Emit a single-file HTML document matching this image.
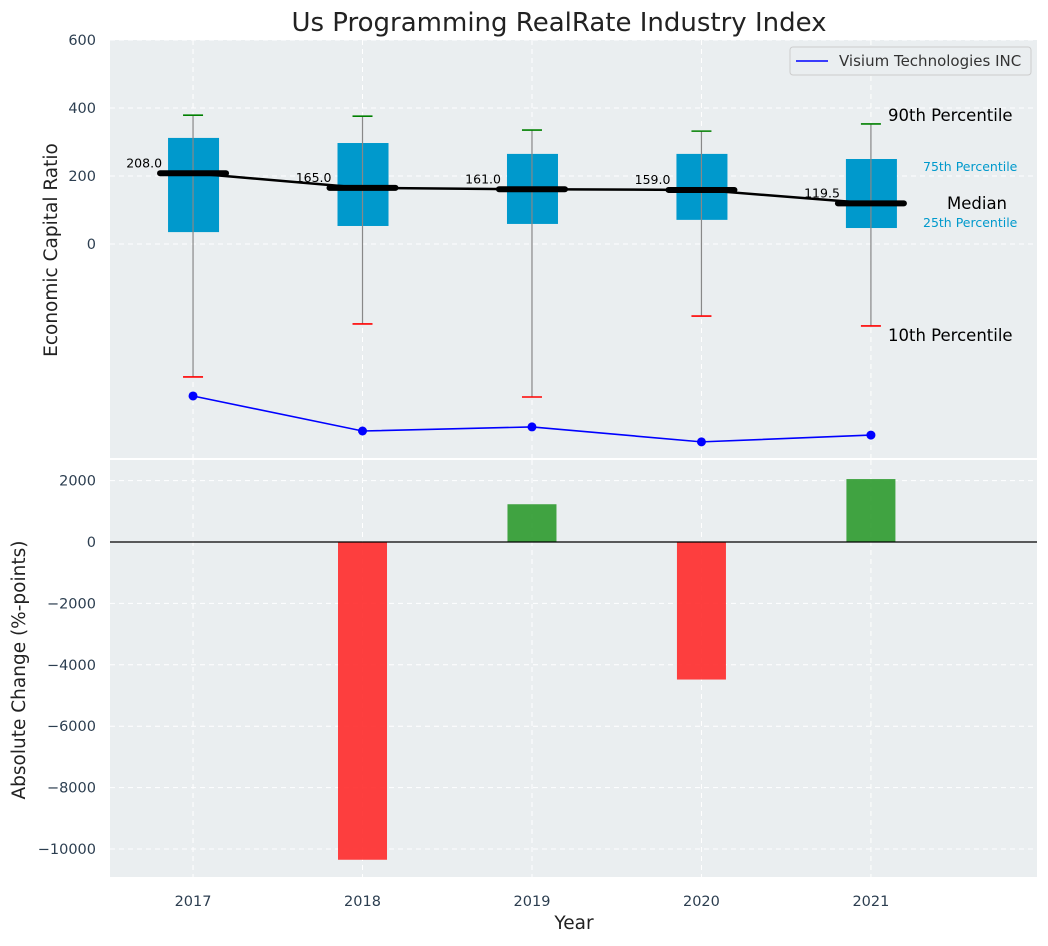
<!DOCTYPE html>
<html><head><meta charset="utf-8"><style>
body{margin:0;background:#fff;font-family:"DejaVu Sans","Liberation Sans",sans-serif}
</style></head><body>
<svg id="c" width="1048" height="942" xmlns="http://www.w3.org/2000/svg"></svg>
<script>
const years=[2017,2018,2019,2020,2021];
const p10=[-391,-235,-450,-212,-241];
const p25=[35,53,59,71,47];
const medians=[208,165,161,159,119.5];
const p75=[312,297,265,265,250];
const p90=[379,376,335,332,353];
const visium=[-447,-550,-538,-582,-562];
const changes=[0,-10350,1230,-4480,2050];
const topTicks=[0,200,400,600];
const botTicks=[-10000,-8000,-6000,-4000,-2000,0,2000];
const NS='http://www.w3.org/2000/svg';
const svg=document.getElementById('c');
function el(t,a,txt){const e=document.createElementNS(NS,t);for(const k in a)e.setAttribute(k,a[k]);if(txt!==undefined)e.textContent=txt;svg.appendChild(e);return e;}
const L=110,R=1037;
const x=v=>L+(v-2016.51)/(2021.98-2016.51)*(R-L);
const T0=40,T1=458,yt=v=>244-v*0.34;
const B0=460,B1=877,yb=v=>542-v*0.0307;
let e;
e=el('text',{x:559,y:31,'text-anchor':'middle','font-size':26,fill:'#222'},'Us Programming RealRate Industry Index');

e=el('rect',{x:L,y:T0,width:R-L,height:T1-T0,fill:'#eaeef0'});

e=el('rect',{x:L,y:B0,width:R-L,height:B1-B0,fill:'#eaeef0'});

years.forEach(v=>{el('line',{x1:x(v),x2:x(v),y1:T0,y2:T1,stroke:'#fff','stroke-dasharray':'5,4'});el('line',{x1:x(v),x2:x(v),y1:B0,y2:B1,stroke:'#fff','stroke-dasharray':'5,4'});
 e=el('text',{x:x(v),y:906,'text-anchor':'middle','font-size':14.5,fill:'#2c3e50'},v);
 });
topTicks.forEach(v=>{el('line',{x1:L,x2:R,y1:yt(v),y2:yt(v),stroke:'#fff','stroke-dasharray':'5,4'});
 e=el('text',{x:96,y:yt(v)+5,'text-anchor':'end','font-size':14.5,fill:'#2c3e50'},v);
 });
botTicks.forEach(v=>{el('line',{x1:L,x2:R,y1:yb(v),y2:yb(v),stroke:'#fff','stroke-dasharray':'5,4'});
 e=el('text',{x:96,y:yb(v)+5,'text-anchor':'end','font-size':14.5,fill:'#2c3e50'},String(v).replace('-','\u2212'));
 });
years.forEach((v,i)=>{const cx=x(v);
 e=el('rect',{x:cx-25,y:yt(p75[i]),width:51,height:yt(p25[i])-yt(p75[i]),fill:'#0099cc'});
 
 e=el('line',{x1:cx,x2:cx,y1:yt(p90[i]),y2:yt(p10[i]),stroke:'#888','stroke-width':1.2});
 
 e=el('line',{x1:cx-10,x2:cx+10,y1:yt(p90[i]),y2:yt(p90[i]),stroke:'green','stroke-width':1.6});
 
 e=el('line',{x1:cx-10,x2:cx+10,y1:yt(p10[i]),y2:yt(p10[i]),stroke:'red','stroke-width':1.6});
 
 e=el('line',{x1:cx-33,x2:cx+33,y1:yt(medians[i]),y2:yt(medians[i]),stroke:'#000','stroke-width':6,'stroke-linecap':'round'});
 
 e=el('text',{x:cx-31,y:yt(medians[i])-6,'text-anchor':'end','font-size':12.5,fill:'#000'},medians[i].toFixed(1));
 });
e=el('polyline',{points:years.map((v,i)=>x(v)+','+yt(medians[i])).join(' '),fill:'none',stroke:'#000','stroke-width':2.5});

e=el('polyline',{points:years.map((v,i)=>x(v)+','+yt(visium[i])).join(' '),fill:'none',stroke:'blue','stroke-width':1.6});

years.forEach((v,i)=>{e=el('circle',{cx:x(v),cy:yt(visium[i]),r:4.5,fill:'blue'});
 });
const ann=[[888,121,'90th Percentile',16.5,'#000'],[923,171,'75th Percentile',12.5,'#0099cc'],[947,209,'Median',16.5,'#000'],[923,227,'25th Percentile',12.5,'#0099cc'],[888,341,'10th Percentile',16.5,'#000']];
ann.forEach(a=>{e=el('text',{x:a[0],y:a[1],'font-size':a[3],fill:a[4]},a[2]);
 });
e=el('rect',{x:790,y:47,width:241,height:28,rx:3,fill:'#eaeef0',stroke:'#ccc'});

el('line',{x1:796,x2:828,y1:61,y2:61,stroke:'blue','stroke-width':1.6});
e=el('text',{x:839,y:66,'font-size':15,fill:'#333'},'Visium Technologies INC');

years.forEach((v,i)=>{const c=changes[i];const y0=yb(Math.max(c,0)),y1=yb(Math.min(c,0));
 e=el('rect',{x:x(v)-24.5,y:y0,width:49,height:y1-y0,fill:c>=0?'#2e9a2e':'#ff2a2a','fill-opacity':0.9});
 });
el('line',{x1:L,x2:R,y1:yb(0),y2:yb(0),stroke:'#000','stroke-width':1.2});
e=el('text',{x:57,y:250,'text-anchor':'middle','font-size':18.5,fill:'#222',transform:'rotate(-90 57 250)'},'Economic Capital Ratio');

e=el('text',{x:25,y:670,'text-anchor':'middle','font-size':18.5,fill:'#222',transform:'rotate(-90 25 670)'},'Absolute Change (%-points)');

e=el('text',{x:574,y:929,'text-anchor':'middle','font-size':18.5,fill:'#222'},'Year');

</script></body></html>
